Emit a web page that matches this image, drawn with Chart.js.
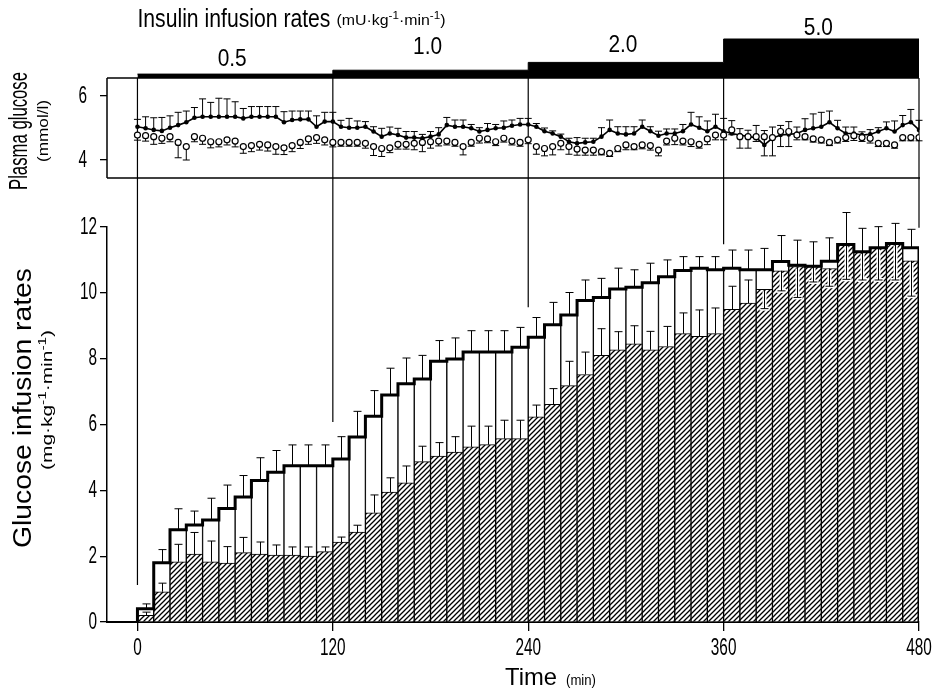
<!DOCTYPE html>
<html><head><meta charset="utf-8">
<script src="https://cdn.jsdelivr.net/npm/chart.js@4.4.1/dist/chart.umd.min.js"></script>
<style>
html,body{margin:0;padding:0;background:#fff;}
#wrap{position:relative;width:939px;height:688px;overflow:hidden;background:#fff;}
#top{position:absolute;left:0;top:0;}
#bot{position:absolute;left:0;top:180px;}
</style></head><body>
<div id="wrap">
<canvas id="top" width="939" height="220"></canvas>
<canvas id="bot" width="939" height="508"></canvas>
</div>
<script>
// ---------- DATA ----------
const xTicks = [0, 120, 240, 360, 480];
const girTicks = [0, 2, 4, 6, 8, 10, 12];
const glucoseTicks = [4, 6];

const insulinTimes = [0, 120, 240, 360, 480];
const insulinRates = [0.5, 1.0, 2.0, 5.0, 5.0];
const insulinLabels = ['0.5', '1.0', '2.0', '5.0'];

const glucoseTimes = [0,5,10,15,20,25,30,35,40,45,50,55,60,65,70,75,80,85,90,95,100,105,110,115,120,
  125,130,135,140,145,150,155,160,165,170,175,180,185,190,195,200,205,210,215,220,225,230,235,240,
  245,250,255,260,265,270,275,280,285,290,295,300,305,310,315,320,325,330,335,340,345,350,355,360,
  365,370,375,380,385,390,395,400,405,410,415,420,425,430,435,440,445,450,455,460,465,470,475,480];
const glucoseFilled = [5.04,4.99,4.94,4.91,5.01,5.09,5.18,5.32,5.35,5.35,5.35,5.35,5.35,5.30,5.35,5.35,5.35,5.35,5.18,5.25,5.27,5.27,5.04,5.20,5.20,
  5.04,5.01,5.01,5.04,4.89,4.73,4.83,4.78,4.70,4.70,4.68,4.73,4.80,5.09,5.04,5.04,4.99,4.89,4.94,4.99,5.01,5.07,5.11,5.11,
  5.04,4.90,4.83,4.73,4.57,4.52,4.55,4.57,4.73,4.94,4.83,4.80,4.83,5.04,4.90,4.76,4.83,4.83,4.90,5.11,5.01,4.90,5.04,4.90,
  4.83,4.78,4.73,4.70,4.47,4.68,4.78,4.80,4.83,4.94,4.99,5.04,5.18,4.99,4.83,4.83,4.78,4.80,4.89,4.99,4.89,5.09,5.18,4.94];
const glucoseFilledSE = [0.23,0.36,0.38,0.42,0.37,0.40,0.35,0.32,0.56,0.45,0.58,0.56,0.47,0.31,0.32,0.32,0.32,0.32,0.33,0.28,0.26,0.26,0.34,0.29,0.29,
  0.20,0.29,0.21,0.16,0.15,0.26,0.20,0.21,0.19,0.19,0.12,0.16,0.21,0.24,0.21,0.21,0.12,0.12,0.20,0.12,0.21,0.18,0.19,0.19,
  0.10,0.10,0.08,0.08,0.11,0.18,0.13,0.11,0.28,0.31,0.21,0.24,0.21,0.21,0.14,0.14,0.14,0.14,0.21,0.38,0.34,0.32,0.39,0.40,
  0.40,0.20,0.20,0.38,0.45,0.35,0.30,0.40,0.20,0.35,0.45,0.45,0.35,0.25,0.20,0.20,0.10,0.15,0.12,0.20,0.33,0.30,0.40,0.30];
const glucoseOpen = [4.78,4.76,4.73,4.68,4.73,4.55,4.42,4.73,4.68,4.57,4.57,4.63,4.59,4.42,4.45,4.49,4.47,4.42,4.38,4.45,4.55,4.66,4.70,4.63,4.55,
  4.55,4.55,4.55,4.52,4.42,4.36,4.38,4.49,4.49,4.52,4.55,4.57,4.59,4.59,4.55,4.42,4.55,4.68,4.66,4.57,4.68,4.59,4.55,4.63,
  4.42,4.36,4.42,4.52,4.42,4.34,4.31,4.31,4.26,4.21,4.36,4.47,4.42,4.47,4.45,4.31,4.59,4.68,4.59,4.57,4.49,4.66,4.78,4.78,
  4.94,4.73,4.73,4.73,4.73,4.70,4.89,4.89,4.78,4.73,4.66,4.63,4.55,4.63,4.70,4.76,4.70,4.68,4.52,4.52,4.47,4.70,4.70,4.70];
const glucoseOpenSE = [0.16,0.17,0.24,0.16,0.16,0.48,0.42,0.16,0.19,0.19,0.16,0.16,0.18,0.21,0.19,0.18,0.19,0.24,0.21,0.19,0.19,0.17,0.18,0.16,0.14,
  0.12,0.12,0.12,0.15,0.28,0.25,0.15,0.15,0.15,0.20,0.29,0.20,0.15,0.12,0.12,0.26,0.12,0.15,0.12,0.12,0.12,0.12,0.12,0.12,
  0.24,0.23,0.26,0.20,0.24,0.19,0.16,0.16,0.10,0.10,0.10,0.15,0.10,0.12,0.14,0.18,0.12,0.20,0.12,0.15,0.12,0.18,0.15,0.15,
  0.15,0.36,0.36,0.15,0.60,0.57,0.47,0.47,0.15,0.10,0.10,0.10,0.10,0.10,0.12,0.15,0.12,0.15,0.10,0.10,0.10,0.10,0.10,0.10];

const barStarts = [0,10,20,30,40,50,60,70,80,90,100,110,120,130,140,150,160,170,180,190,200,210,220,230,
  240,250,260,270,280,290,300,310,320,330,340,350,360,370,380,390,400,410,420,430,440,450,460,470];
const barWidth = 10;
const girTotal = [0.40,1.80,2.80,2.95,3.10,3.45,3.80,4.30,4.55,4.75,4.75,4.75,4.95,5.62,6.25,6.90,7.24,7.38,7.92,7.99,8.20,8.20,8.20,8.35,
  8.65,9.03,9.33,9.77,9.86,10.12,10.17,10.31,10.49,10.68,10.75,10.70,10.75,10.70,10.70,10.95,10.84,10.81,10.96,11.12,11.25,11.37,11.50,11.37];
const girTotalSE = [0.15,0.40,0.64,0.42,0.66,0.71,0.65,0.69,0.66,0.63,0.63,0.63,0.68,0.78,0.78,0.81,0.78,0.72,0.63,0.64,0.65,0.65,0.65,0.60,
  0.60,0.68,0.68,0.62,0.58,0.63,0.53,0.59,0.51,0.42,0.35,0.40,0.55,0.60,0.65,0.79,0.76,0.74,0.71,1.32,0.71,0.64,0.61,0.56];
const girHatched = [0.20,0.92,1.83,2.06,1.83,1.79,2.11,2.06,2.03,2.03,2.00,2.14,2.43,2.73,3.32,3.95,4.23,4.87,5.04,5.16,5.32,5.39,5.57,5.57,
  6.23,6.61,7.18,7.52,8.10,8.27,8.45,8.27,8.37,8.76,8.68,8.76,9.50,9.69,10.11,10.67,10.80,10.80,10.74,11.47,11.25,11.37,11.50,10.97];
// signed: negative = error bar drawn downward
const girHatchedSE = [0.10,0.26,0.53,0.66,0.63,0.50,0.46,0.37,0.31,0.25,0.28,0.14,0.15,0.21,0.54,0.43,0.51,0.47,0.41,0.47,0.63,0.56,0.56,0.56,
  0.36,0.48,0.74,0.68,0.81,0.55,0.55,0.56,0.61,0.63,0.80,0.78,0.70,0.70,-0.59,-0.61,-0.94,-0.47,-0.54,-1.06,-0.86,-0.98,-1.11,-1.07];

// ---------- STYLE / LAYOUT ----------
const FONT = "'Liberation Sans','Arimo','DejaVu Sans',sans-serif";
const X_MIN = -18.7, X_MAX = 480;
const TICK_FONT = 24, TICK_SX = 0.64;
const insulinLabelBaselines = [66, 54, 52, 35];
const TOP_PANEL_BOTTOM = 178;   // page y of top panel bottom edge
const BOTTOM_CANVAS_TOP = 180;  // page y where the lower canvas starts

function seg(ctx, x1, y1, x2, y2) { ctx.beginPath(); ctx.moveTo(x1, y1); ctx.lineTo(x2, y2); ctx.stroke(); }

// horizontally condensed text (target width or scale factor)
function ctext(ctx, text, x, y, o) {
  ctx.save();
  ctx.font = o.size + 'px ' + FONT;
  ctx.textAlign = 'left';
  ctx.textBaseline = o.baseline || 'alphabetic';
  ctx.fillStyle = '#000';
  const nat = ctx.measureText(text).width;
  const sx = o.width ? o.width / nat : (o.sx || 1);
  const w = nat * sx;
  let x0 = x;
  if (o.align === 'center') x0 = x - w / 2; else if (o.align === 'right') x0 = x - w;
  ctx.translate(x0, y);
  ctx.scale(sx, 1);
  ctx.fillText(text, 0, 0);
  ctx.restore();
  return w;
}

// unit text with superscripts, condensed to a target width
function unitText(ctx, parts, x, y, size, width, align) {
  ctx.save();
  ctx.textAlign = 'left';
  ctx.textBaseline = 'alphabetic';
  ctx.fillStyle = '#000';
  const supSize = Math.round(size * 0.7);
  let nat = 0;
  parts.forEach(p => { ctx.font = (p[1] ? supSize : size) + 'px ' + FONT; nat += ctx.measureText(p[0]).width; });
  const sx = width / nat;
  let x0 = x;
  if (align === 'center') x0 = x - width / 2;
  ctx.translate(x0, y);
  ctx.scale(sx, 1);
  let cx = 0;
  parts.forEach(p => {
    ctx.font = (p[1] ? supSize : size) + 'px ' + FONT;
    ctx.fillText(p[0], cx, p[1] ? -size * 0.42 : 0);
    cx += ctx.measureText(p[0]).width;
  });
  ctx.restore();
}
const unitParts = (a) => [['(' + a + '\u00b7kg', 0], ['-1', 1], ['\u00b7min', 0], ['-1', 1], [')', 0]];

// ---------- TOP PANEL ----------
const topDecor = {
  id: 'topDecor',
  beforeDatasetsDraw(chart) {
    const { ctx, scales: { x, yg, yIns } } = chart;
    const y0 = yIns.getPixelForValue(0);
    ctx.save();
    ctx.strokeStyle = '#000';
    ctx.lineWidth = 1.2;
    xTicks.forEach(t => { const px = x.getPixelForValue(t); seg(ctx, px, y0, px, BOTTOM_CANVAS_TOP); });
    ctx.lineWidth = 1;
    glucoseTimes.forEach((t, i) => {
      const px = x.getPixelForValue(t);
      let p0 = yg.getPixelForValue(glucoseFilled[i]);
      let p1 = yg.getPixelForValue(glucoseFilled[i] + glucoseFilledSE[i]);
      seg(ctx, px, p0, px, p1); seg(ctx, px - 3.5, p1, px + 3.5, p1);
      p0 = yg.getPixelForValue(glucoseOpen[i]);
      p1 = yg.getPixelForValue(glucoseOpen[i] - glucoseOpenSE[i]);
      seg(ctx, px, p0, px, p1); seg(ctx, px - 3.5, p1, px + 3.5, p1);
    });
    ctx.restore();
  },
  afterDraw(chart) {
    const { ctx, scales: { x, yg, yIns }, chartArea: a } = chart;
    const y0 = yIns.getPixelForValue(0);
    const xr = x.getPixelForValue(480);
    ctx.save();
    ctx.strokeStyle = '#000';
    ctx.lineWidth = 1.5;
    seg(ctx, a.left, y0, a.left, a.bottom);
    seg(ctx, a.left, y0, xr, y0);
    seg(ctx, a.left, a.bottom, xr + 1, a.bottom);
    // y tick labels
    glucoseTicks.forEach(v => ctext(ctx, String(v), a.left - 20, yg.getPixelForValue(v), { size: TICK_FONT, sx: TICK_SX, align: 'right', baseline: 'middle' }));
    // insulin rate labels
    for (let i = 0; i < insulinLabels.length; i++) {
      const cx = x.getPixelForValue((insulinTimes[i] + insulinTimes[i + 1]) / 2) - 3;
      ctext(ctx, insulinLabels[i], cx, insulinLabelBaselines[i], { size: 23, width: 29, align: 'center' });
    }
    // insulin title
    const x0 = x.getPixelForValue(0);
    ctext(ctx, 'Insulin infusion rates', x0, 27, { size: 25, width: 193 });
    unitText(ctx, unitParts('mU'), x0 + 199, 25, 15, 109, 'left');
    // y title
    ctx.translate(27, 131);
    ctx.rotate(-Math.PI / 2);
    ctext(ctx, 'Plasma glucose', 0, 0, { size: 25, width: 118, align: 'center' });
    ctext(ctx, '(mmol/l)', 0, 21, { size: 15, width: 62, align: 'center' });
    ctx.restore();
  }
};

new Chart(document.getElementById('top'), {
  type: 'line',
  data: {
    datasets: [
      { label: 'Insulin infusion rate', yAxisID: 'yIns', data: insulinTimes.map((t, i) => ({ x: t, y: insulinRates[i] })),
        stepped: 'before', fill: 'origin', backgroundColor: '#000', borderColor: '#000', borderWidth: 1, pointRadius: 0, order: 3 },
      { label: 'Plasma glucose (filled)', yAxisID: 'yg', data: glucoseTimes.map((t, i) => ({ x: t, y: glucoseFilled[i] })),
        borderColor: '#000', borderWidth: 1.6, pointRadius: 2.3, pointBackgroundColor: '#000', pointBorderColor: '#000',
        pointBorderWidth: 0, fill: false, tension: 0, order: 2 },
      { label: 'Plasma glucose (open)', yAxisID: 'yg', data: glucoseTimes.map((t, i) => ({ x: t, y: glucoseOpen[i] })),
        showLine: false, pointRadius: 3, pointBackgroundColor: '#fff', pointBorderColor: '#000', pointBorderWidth: 1.2, fill: false, order: 1 }
    ]
  },
  options: {
    responsive: false, animation: false, events: [],
    layout: { padding: { left: 0, right: 20, top: 36, bottom: 220 - TOP_PANEL_BOTTOM } },
    plugins: { legend: { display: false }, tooltip: { enabled: false } },
    scales: {
      x: { type: 'linear', min: X_MIN, max: X_MAX, display: false },
      yg: { type: 'linear', position: 'left', min: 3.4375, max: 7.875,
        afterFit(s) { s.width = 107; },
        afterBuildTicks(s) { s.ticks = glucoseTicks.map(v => ({ value: v })); },
        grid: { drawOnChartArea: false, drawTicks: true, tickLength: 7, color: '#000', lineWidth: 1.3 },
        border: { display: false },
        ticks: { display: false } },
      yIns: { type: 'linear', display: false, min: -12.82, max: 5.385 }
    }
  },
  plugins: [topDecor]
});

// ---------- BOTTOM PANEL ----------
function makeHatch() {
  const c = document.createElement('canvas'); c.width = 5; c.height = 5;
  const g = c.getContext('2d');
  g.fillStyle = '#fff'; g.fillRect(0, 0, 5, 5);
  g.strokeStyle = '#000'; g.lineWidth = 1.3;
  g.beginPath();
  g.moveTo(-1, 6); g.lineTo(6, -1);
  g.moveTo(-1, 1); g.lineTo(1, -1);
  g.moveTo(4, 6); g.lineTo(6, 4);
  g.stroke();
  return g.createPattern(c, 'repeat');
}
const hatch = makeHatch();

const envelope = girTotal.map((v, i) => Math.max(v, girHatched[i]));
const lastEnd = barStarts[barStarts.length - 1] + barWidth;
const outline = [{ x: barStarts[0], y: 0 }]
  .concat(barStarts.map((t, i) => ({ x: t, y: envelope[i] })))
  .concat([{ x: lastEnd, y: envelope[envelope.length - 1] }, { x: lastEnd, y: 0 }]);

const botDecor = {
  id: 'botDecor',
  afterDatasetDraw(chart, args) {
    const { ctx, scales: { x, y } } = chart;
    const half = 4;
    ctx.save();
    ctx.strokeStyle = '#000';
    ctx.lineWidth = 1;
    if (args.index === 0) {
      barStarts.forEach((t, i) => {
        const px = Math.round(x.getPixelForValue(t + barWidth / 2)) + 0.5;
        const p0 = y.getPixelForValue(girTotal[i]);
        const p1 = y.getPixelForValue(girTotal[i] + girTotalSE[i]);
        seg(ctx, px, p0, px, p1); seg(ctx, px - half, p1, px + half, p1);
      });
    }
    if (args.index === 1) {
      barStarts.forEach((t, i) => {
        const px = Math.round(x.getPixelForValue(t + barWidth / 2)) + 0.5;
        const p0 = y.getPixelForValue(girHatched[i]);
        const p1 = y.getPixelForValue(girHatched[i] + girHatchedSE[i]);
        if (girHatchedSE[i] < 0) {
          ctx.strokeStyle = '#fff'; ctx.lineWidth = 4;
          seg(ctx, px, p0 + 2, px, p1 + 1.5); seg(ctx, px - half - 1, p1, px + half + 1, p1);
          ctx.strokeStyle = '#000'; ctx.lineWidth = 1;
        }
        seg(ctx, px, p0, px, p1); seg(ctx, px - half, p1, px + half, p1);
      });
    }
    ctx.restore();
  },
  afterDraw(chart) {
    const { ctx, scales: { x, y }, chartArea: a } = chart;
    ctx.save();
    ctx.strokeStyle = '#000';
    ctx.lineWidth = 1.2;
    xTicks.forEach(t => {
      let top = 0;
      barStarts.forEach((b, i) => {
        if (b === t || b + barWidth === t) top = Math.max(top, envelope[i] + girTotalSE[i]);
      });
      const px = x.getPixelForValue(t);
      const gap = 19 - t * 17.5 / 480;
      seg(ctx, px, 0, px, y.getPixelForValue(top) - gap);
    });
    // tick labels
    girTicks.forEach(v => ctext(ctx, String(v), a.left - 10, y.getPixelForValue(v), { size: TICK_FONT, sx: TICK_SX, align: 'right', baseline: 'middle' }));
    xTicks.forEach(v => ctext(ctx, String(v), x.getPixelForValue(v), a.bottom + 26, { size: TICK_FONT, sx: TICK_SX, align: 'center', baseline: 'middle' }));
    // x title
    const w = ctext(ctx, 'Time', 505, 505, { size: 24, width: 52 });
    ctext(ctx, '(min)', 505 + w + 9, 505, { size: 14, width: 30 });
    // y title
    ctx.translate(31, 408 - BOTTOM_CANVAS_TOP);
    ctx.rotate(-Math.PI / 2);
    ctext(ctx, 'Glucose infusion rates', 0, 0, { size: 25, width: 280, align: 'center' });
    unitText(ctx, unitParts('mg'), 8, 21, 15, 140, 'center');
    ctx.restore();
  }
};

new Chart(document.getElementById('bot'), {
  type: 'bar',
  data: {
    datasets: [
      { type: 'bar', label: 'Total', data: barStarts.map((t, i) => ({ x: t + barWidth / 2, y: girTotal[i] })),
        backgroundColor: '#fff', borderColor: '#000', borderWidth: 1, grouped: false,
        barPercentage: 1, categoryPercentage: 1, order: 4 },
      { type: 'bar', label: 'Hatched', data: barStarts.map((t, i) => ({ x: t + barWidth / 2, y: girHatched[i] })),
        backgroundColor: hatch, borderColor: '#000', borderWidth: 1, grouped: false,
        barPercentage: 1, categoryPercentage: 1, order: 3 },
      { type: 'line', label: 'Outline', data: outline, stepped: 'before', borderColor: '#000', borderWidth: 3,
        pointRadius: 0, fill: false, order: 2 }
    ]
  },
  options: {
    responsive: false, animation: false, events: [],
    layout: { padding: { left: 0, right: 20, top: 47, bottom: 0 } },
    plugins: { legend: { display: false }, tooltip: { enabled: false } },
    scales: {
      x: { type: 'linear', min: X_MIN, max: X_MAX, offset: false,
        afterFit(s) { s.height = 66; },
        afterBuildTicks(s) { s.ticks = xTicks.map(v => ({ value: v })); },
        grid: { offset: false, drawOnChartArea: false, drawTicks: true, tickLength: 9, color: '#000', lineWidth: 1.3 },
        border: { display: true, color: '#000', width: 2 },
        ticks: { display: false } },
      y: { type: 'linear', min: 0, max: 12, stacked: false,
        afterFit(s) { s.width = 107; },
        afterBuildTicks(s) { s.ticks = girTicks.map(v => ({ value: v })); },
        grid: { drawOnChartArea: false, drawTicks: true, tickLength: 7, color: '#000', lineWidth: 1.3 },
        border: { display: true, color: '#000', width: 1.5 },
        ticks: { display: false } }
    }
  },
  plugins: [botDecor]
});
</script>
</body></html>
